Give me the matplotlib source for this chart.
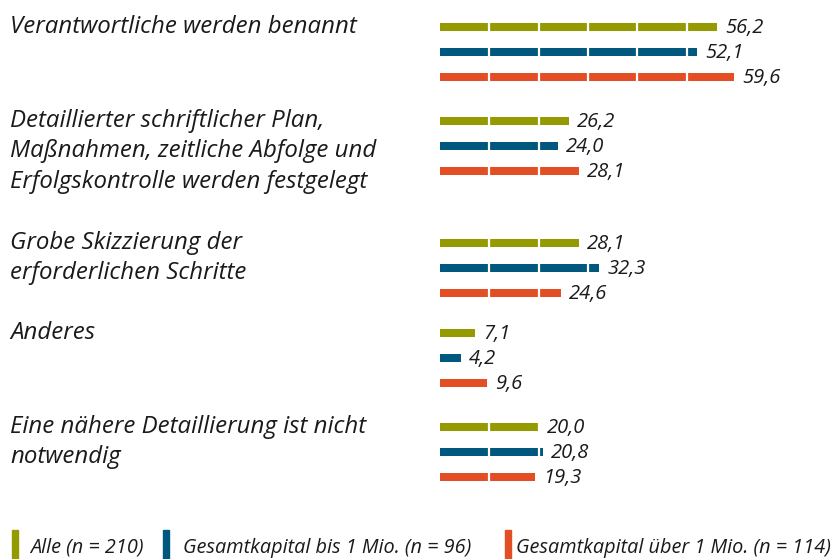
import matplotlib
matplotlib.use("Agg")
from matplotlib import pyplot as plt
from matplotlib.patches import Rectangle

plt.rcParams['font.family'] = 'Open Sans'
plt.rcParams['font.style'] = 'italic'

categories = [
    "Verantwortliche werden benannt",
    "Detaillierter schriftlicher Plan,\nMaßnahmen, zeitliche Abfolge und\nErfolgskontrolle werden festgelegt",
    "Grobe Skizzierung der\nerforderlichen Schritte",
    "Anderes",
    "Eine nähere Detaillierung ist nicht\nnotwendig",
]
alle = [56.2, 26.2, 28.1, 7.1, 20.0]
bis1 = [52.1, 24.0, 32.3, 4.2, 20.8]
ueber1 = [59.6, 28.1, 24.6, 9.6, 19.3]
series = [alle, bis1, ueber1]
series_names = ["Alle (n = 210)", "Gesamtkapital bis 1 Mio. (n = 96)",
                "Gesamtkapital über 1 Mio. (n = 114)"]
colors = ["#959a00", "#00587f", "#e34e25"]

W, H = 834, 559
fig = plt.figure(figsize=(W / 100, H / 100), dpi=100)
ax = fig.add_axes([0, 0, 1, 1])
px = 4.93  # pixels per percent
x0 = 440
ax.set_xlim(-x0 / px, (W - x0) / px)
ax.set_ylim(H, 0)
ax.axis("off")

group_y = [52, 146, 268, 358, 452]
offsets = [-25, 0, 25]

for s, vals in enumerate(series):
    ys = [g + offsets[s] for g in group_y]
    ax.barh(ys, vals, height=7.5, color=colors[s], zorder=2)
    for y, v in zip(ys, vals):
        ax.text(v + 8 / px, y + 1, f"{v:.1f}".replace(".", ","), va="center",
                ha="left", fontsize=14.5, color="#1a1a1a", zorder=5)
        for t in range(10, int(v) + 1, 10):
            ax.plot([t, t], [y - 5, y + 5], color="white", lw=1.6, zorder=3)

for g, label in zip(group_y, categories):
    ax.text(-430 / px, g - 37, label, va="top", ha="left", fontsize=17.3,
            color="#1a1a1a", linespacing=1.35)

# legend
leg_x = [12, 163, 505]
leg_tx = [30, 183, 516]
for c, name, lx, tx in zip(colors, series_names, leg_x, leg_tx):
    fig.patches.append(Rectangle((lx / W, 0), 6 / W, 29 / H, color=c,
                                 transform=fig.transFigure))
    fig.text(tx / W, 11 / H, name, fontsize=14.3, va="center",
             ha="left", color="#1a1a1a")

fig.savefig("out.png", dpi=100)
